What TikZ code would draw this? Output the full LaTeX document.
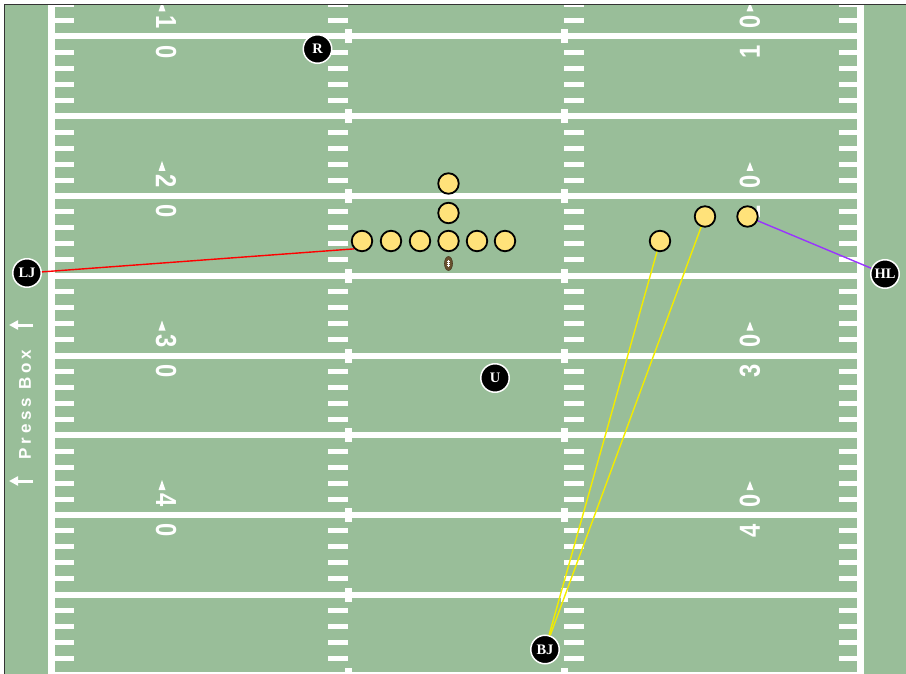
\documentclass[tikz,border=0pt]{standalone}
\usepackage{fontspec}
\usepackage{graphicx}
\usetikzlibrary{arrows.meta,shapes.geometric}
\setmainfont{Liberation Serif}
\newfontfamily\numfont{Liberation Sans}
\newfontfamily\pbfont[LetterSpace=22]{Liberation Sans}
\definecolor{fieldgreen}{RGB}{153,190,153}
\definecolor{playerfill}{RGB}{255,226,122}
\definecolor{edgegray}{RGB}{51,51,51}
\definecolor{ballbrown}{RGB}{104,80,46}
\definecolor{ljred}{RGB}{255,0,0}
\definecolor{hlpurple}{RGB}{153,51,255}
\definecolor{bjyellow}{RGB}{242,236,0}
\tikzset{
  player/.style={circle, draw=black, line width=1.8pt, fill=playerfill, minimum size=20.5pt, inner sep=0pt},
  official/.style={circle, fill=black, draw=white, line width=1.5pt, minimum size=28.5pt, inner sep=0pt, text=white, font=\bfseries\fontsize{14.5}{14.5}\selectfont},
  numtxt/.style={text=white, inner sep=0pt, font=\numfont\bfseries\fontsize{29}{29}\selectfont},
  numl/.style={numtxt, rotate=-90},
  numr/.style={numtxt, rotate=90},
  pbtext/.style={text=white, inner sep=0pt, rotate=90, font=\pbfont\bfseries\fontsize{17}{17}\selectfont},
  pbarrow/.style={white, line width=3pt, -{Triangle[length=9pt,width=9pt]}},
  football/.style={ellipse, fill=ballbrown, draw=ballbrown!70!black, line width=0.6pt, minimum width=8pt, minimum height=14pt, inner sep=0pt},
  connector/.style={line width=1.4pt}
}
\begin{document}
\begin{tikzpicture}[x=1pt,y=-1pt]
\useasboundingbox (0,0) rectangle (906,674);
% field
\fill[white] (0,0) rectangle (906,674);
\fill[fieldgreen] (4,5) rectangle (910,680);
\begin{scope}
\clip (4.5,5.5) rectangle (910,680);
% sidelines
\fill[white] (48,0) rectangle (55,680);
\fill[white] (857,0) rectangle (864,680);
% yard lines
\foreach \k in {0,...,8}{
  \pgfmathsetmacro\yy{36.5+79.75*\k}
  \fill[white] (55,\yy-3) rectangle (857,\yy+3);
  \fill[white] (345,\yy-7) rectangle (352,\yy+7);
  \fill[white] (561,\yy-7) rectangle (568,\yy+7);
}
% hash marks
\foreach \k in {-1,...,8}{
  \foreach \m in {1,...,4}{
    \pgfmathsetmacro\yy{36.5+79.75*\k+15.95*\m}
    \fill[white] (55,\yy-2.5) rectangle (74,\yy+2.5);
    \fill[white] (328,\yy-2.5) rectangle (348,\yy+2.5);
    \fill[white] (564,\yy-2.5) rectangle (584,\yy+2.5);
    \fill[white] (839,\yy-2.5) rectangle (857,\yy+2.5);
  }
}
% numbers
\foreach \k/\a/\b in {0/1/0, 2/2/0, 4/3/0, 6/4/0}{
  \pgfmathsetmacro\yy{36.5+79.75*\k}
  \node[numl] (L\k-a) at (166,\yy-14.5) {\scalebox{0.82}[1]{\a}};
  \node[numl] (L\k-b) at (166,\yy+15.5) {\scalebox{0.82}[1]{\b}};
  \fill[white] (162,\yy-35) -- (158.5,\yy-25) -- (165.5,\yy-25) -- cycle;
  \node[numr] (R\k-a) at (750,\yy+15.5) {\scalebox{0.82}[1]{\a}};
  \node[numr] (R\k-b) at (750,\yy-14.5) {\scalebox{0.82}[1]{\b}};
  \fill[white] (750,\yy-34) -- (746.5,\yy-25) -- (753.5,\yy-25) -- cycle;
}
\end{scope}
% border
\draw[edgegray, line width=1pt] (4,5) rectangle (907,675);
% press box label
\node[pbtext] (pb) at (25,404.5) {Press Box};
\coordinate (pa1s) at (33,325);
\coordinate (pa1e) at (9,325);
\coordinate (pa2s) at (33,481);
\coordinate (pa2e) at (9,481);
\draw[pbarrow] (pa1s) -- (pa1e);
\draw[pbarrow] (pa2s) -- (pa2e);
% football
\node[football] (ball) at (448.5,263.5) {};
\draw[white, line width=0.6pt] ([yshift=-3.5pt]ball.center) -- ([yshift=3.5pt]ball.center);
\foreach \d in {-2,0,2}{
  \draw[white, line width=0.5pt] ([xshift=-1.5pt,yshift=\d pt]ball.center) -- ([xshift=1.5pt,yshift=\d pt]ball.center);
}
% players
\node[player] (p1) at (362,241) {};
\node[player] (p2) at (391,241) {};
\node[player] (p3) at (420,241) {};
\node[player] (p4) at (448.5,241) {};
\node[player] (p5) at (477,241) {};
\node[player] (p6) at (505,241) {};
\node[player] (p7) at (448.5,213) {};
\node[player] (p8) at (448.5,183.5) {};
\node[player] (p9) at (660,241) {};
\node[player] (p10) at (705,216.5) {};
\node[player] (p11) at (747.5,216.5) {};
% officials
\node[official] (R) at (317.5,49) {R};
\node[official] (LJ) at (27,273) {LJ};
\node[official] (HL) at (885,274) {HL};
\node[official] (U) at (495,378) {U};
\node[official] (BJ) at (545,649.5) {BJ};
% connectors
\draw[connector, ljred] (LJ) -- (p1.south west);
\draw[connector, hlpurple] (HL) -- (p11);
\draw[connector, bjyellow] (BJ) -- (p9);
\draw[connector, bjyellow] (BJ) -- (p10);
\end{tikzpicture}
\end{document}
